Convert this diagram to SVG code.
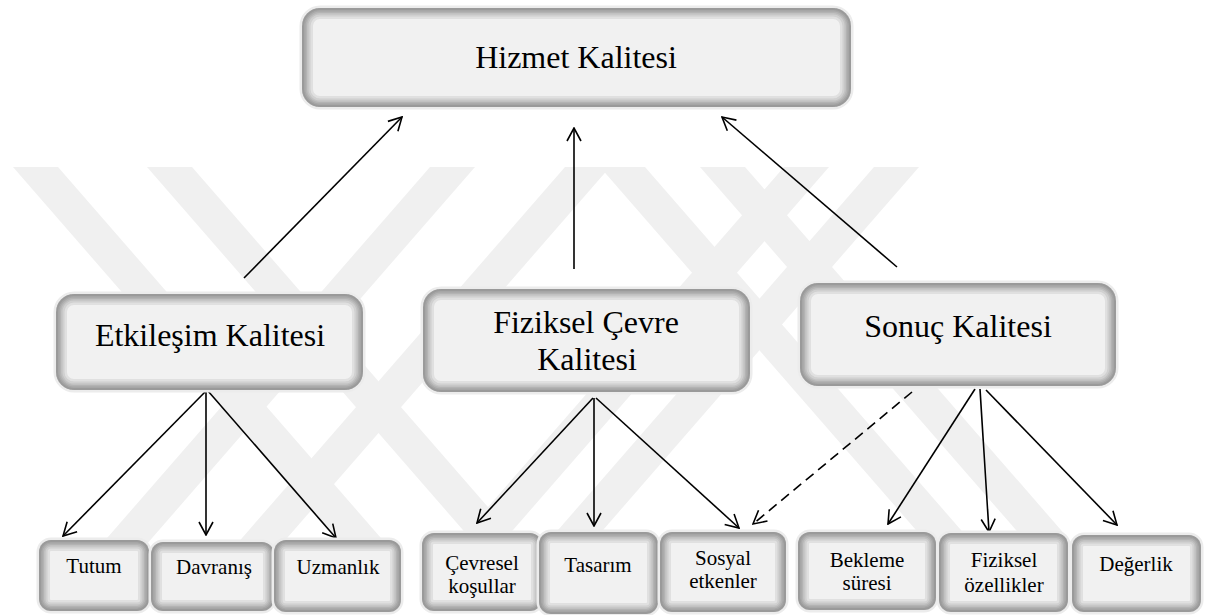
<svg xmlns="http://www.w3.org/2000/svg" width="1213" height="615" viewBox="0 0 1213 615">
  <defs>
    <style>
      .halo { fill: none; stroke: #ececec; stroke-width: 5; }
      .face { fill: #f1f1f1; stroke: none; }
      .sh { fill: none; stroke: #000; stroke-opacity: 0.07; }
      .w1 { stroke-width: 4; } .w2 { stroke-width: 7; } .w3 { stroke-width: 10; }
      .w4 { stroke-width: 13; } .w5 { stroke-width: 17; } .w6 { stroke-width: 22; }
      .t { fill: #000; text-anchor: middle; font-family: "Liberation Serif", "Times New Roman", serif; }
      .big { font-size: 32px; }
      .small { font-size: 21px; }
      .wire { fill: none; stroke: #000; stroke-width: 1.6; marker-end: url(#head); }
      .dash { stroke-dasharray: 10 6; }
      .wm { fill: #f0f0f0; }
    </style>
    <marker id="head" viewBox="0 0 16 16" refX="15" refY="8" markerWidth="16" markerHeight="16" markerUnits="userSpaceOnUse" orient="auto">
      <path d="M2,1 L15,8 L2,15" fill="none" stroke="#000" stroke-width="1.6"/>
    </marker>

    <!-- box outlines -->
    <rect id="r-hizmet" x="302" y="8" width="549" height="99" rx="18"/>
    <rect id="r-etk" x="56" y="294" width="307" height="96" rx="18"/>
    <rect id="r-fiz" x="423" y="289" width="327" height="103" rx="18"/>
    <rect id="r-son" x="800" y="283" width="316" height="103" rx="18"/>
    <rect id="r-tut" x="39" y="540" width="110" height="71" rx="12"/>
    <rect id="r-dav" x="151" y="542" width="123" height="69" rx="12"/>
    <rect id="r-uzm" x="274" y="540" width="127" height="72" rx="12"/>
    <rect id="r-cev" x="422" y="533" width="120" height="78" rx="12"/>
    <rect id="r-tas" x="539" y="532" width="119" height="82" rx="12"/>
    <rect id="r-sos" x="660" y="532" width="126" height="80" rx="12"/>
    <rect id="r-bek" x="798" y="532" width="138" height="78" rx="12"/>
    <rect id="r-foz" x="939" y="533" width="129" height="79" rx="12"/>
    <rect id="r-deg" x="1072" y="535" width="129" height="77" rx="12"/>

    <clipPath id="c-hizmet"><use href="#r-hizmet"/></clipPath>
    <clipPath id="c-etk"><use href="#r-etk"/></clipPath>
    <clipPath id="c-fiz"><use href="#r-fiz"/></clipPath>
    <clipPath id="c-son"><use href="#r-son"/></clipPath>
    <clipPath id="c-tut"><use href="#r-tut"/></clipPath>
    <clipPath id="c-dav"><use href="#r-dav"/></clipPath>
    <clipPath id="c-uzm"><use href="#r-uzm"/></clipPath>
    <clipPath id="c-cev"><use href="#r-cev"/></clipPath>
    <clipPath id="c-tas"><use href="#r-tas"/></clipPath>
    <clipPath id="c-sos"><use href="#r-sos"/></clipPath>
    <clipPath id="c-bek"><use href="#r-bek"/></clipPath>
    <clipPath id="c-foz"><use href="#r-foz"/></clipPath>
    <clipPath id="c-deg"><use href="#r-deg"/></clipPath>
  </defs>

  <rect width="1213" height="615" fill="#fff"/>

  <!-- background emblem: pale diagonal bands -->
  <g id="emblem">
    <polygon class="wm" points="13,167 58,167 387,545 342,545"/>
    <polygon class="wm" points="147,167 192,167 521,545 476,545"/>
    <polygon class="wm" points="430,167 475,167 146,545 101,545"/>
    <polygon class="wm" points="565,167 610,167 281,545 236,545"/>
    <polygon class="wm" points="600,167 645,167 974,545 929,545"/>
    <polygon class="wm" points="700,167 745,167 1074,545 1029,545"/>
    <polygon class="wm" points="784,167 829,167 500,545 455,545"/>
    <polygon class="wm" points="874,167 919,167 590,545 545,545"/>
  </g>

  <g id="connectors">
    <line class="wire" x1="244" y1="278" x2="402" y2="117"/>
    <line class="wire" x1="574" y1="269" x2="574" y2="128"/>
    <line class="wire" x1="897" y1="267" x2="722" y2="117"/>
    <line class="wire" x1="206" y1="391" x2="63" y2="536"/>
    <line class="wire" x1="206" y1="391" x2="206" y2="535"/>
    <line class="wire" x1="208" y1="391" x2="336" y2="538"/>
    <line class="wire" x1="593" y1="398" x2="477" y2="523"/>
    <line class="wire" x1="594" y1="398" x2="594" y2="526"/>
    <line class="wire" x1="596" y1="398" x2="739" y2="528"/>
    <line class="wire" x1="975" y1="389" x2="888" y2="524"/>
    <line class="wire" x1="980" y1="389" x2="989" y2="532"/>
    <line class="wire" x1="986" y1="390" x2="1117" y2="525"/>
    <line class="wire dash" x1="912" y1="392" x2="753" y2="524"/>
  </g>

  <g id="hizmet">
    <use href="#r-hizmet" class="halo"/>
    <use href="#r-hizmet" class="face"/>
    <g clip-path="url(#c-hizmet)">
      <use href="#r-hizmet" class="sh w1"/><use href="#r-hizmet" class="sh w2"/><use href="#r-hizmet" class="sh w3"/>
      <use href="#r-hizmet" class="sh w4"/><use href="#r-hizmet" class="sh w5"/><use href="#r-hizmet" class="sh w6"/>
    </g>
    <text class="t big" x="576" y="68">Hizmet Kalitesi</text>
  </g>

  <g id="etkilesim">
    <use href="#r-etk" class="halo"/>
    <use href="#r-etk" class="face"/>
    <g clip-path="url(#c-etk)">
      <use href="#r-etk" class="sh w1"/><use href="#r-etk" class="sh w2"/><use href="#r-etk" class="sh w3"/>
      <use href="#r-etk" class="sh w4"/><use href="#r-etk" class="sh w5"/><use href="#r-etk" class="sh w6"/>
    </g>
    <text class="t big" x="210" y="346">Etkileşim Kalitesi</text>
  </g>

  <g id="fiziksel-cevre">
    <use href="#r-fiz" class="halo"/>
    <use href="#r-fiz" class="face"/>
    <g clip-path="url(#c-fiz)">
      <use href="#r-fiz" class="sh w1"/><use href="#r-fiz" class="sh w2"/><use href="#r-fiz" class="sh w3"/>
      <use href="#r-fiz" class="sh w4"/><use href="#r-fiz" class="sh w5"/><use href="#r-fiz" class="sh w6"/>
    </g>
    <text class="t big" x="586" y="333">Fiziksel Çevre</text>
    <text class="t big" x="587" y="370">Kalitesi</text>
  </g>

  <g id="sonuc">
    <use href="#r-son" class="halo"/>
    <use href="#r-son" class="face"/>
    <g clip-path="url(#c-son)">
      <use href="#r-son" class="sh w1"/><use href="#r-son" class="sh w2"/><use href="#r-son" class="sh w3"/>
      <use href="#r-son" class="sh w4"/><use href="#r-son" class="sh w5"/><use href="#r-son" class="sh w6"/>
    </g>
    <text class="t big" x="958" y="337">Sonuç Kalitesi</text>
  </g>

  <g id="tutum">
    <use href="#r-tut" class="halo"/>
    <use href="#r-tut" class="face"/>
    <g clip-path="url(#c-tut)">
      <use href="#r-tut" class="sh w1"/><use href="#r-tut" class="sh w2"/><use href="#r-tut" class="sh w3"/>
      <use href="#r-tut" class="sh w4"/><use href="#r-tut" class="sh w5"/><use href="#r-tut" class="sh w6"/>
    </g>
    <text class="t small" x="94" y="573">Tutum</text>
  </g>

  <g id="davranis">
    <use href="#r-dav" class="halo"/>
    <use href="#r-dav" class="face"/>
    <g clip-path="url(#c-dav)">
      <use href="#r-dav" class="sh w1"/><use href="#r-dav" class="sh w2"/><use href="#r-dav" class="sh w3"/>
      <use href="#r-dav" class="sh w4"/><use href="#r-dav" class="sh w5"/><use href="#r-dav" class="sh w6"/>
    </g>
    <text class="t small" x="214" y="574">Davranış</text>
  </g>

  <g id="uzmanlik">
    <use href="#r-uzm" class="halo"/>
    <use href="#r-uzm" class="face"/>
    <g clip-path="url(#c-uzm)">
      <use href="#r-uzm" class="sh w1"/><use href="#r-uzm" class="sh w2"/><use href="#r-uzm" class="sh w3"/>
      <use href="#r-uzm" class="sh w4"/><use href="#r-uzm" class="sh w5"/><use href="#r-uzm" class="sh w6"/>
    </g>
    <text class="t small" x="338" y="574">Uzmanlık</text>
  </g>

  <g id="cevresel">
    <use href="#r-cev" class="halo"/>
    <use href="#r-cev" class="face"/>
    <g clip-path="url(#c-cev)">
      <use href="#r-cev" class="sh w1"/><use href="#r-cev" class="sh w2"/><use href="#r-cev" class="sh w3"/>
      <use href="#r-cev" class="sh w4"/><use href="#r-cev" class="sh w5"/><use href="#r-cev" class="sh w6"/>
    </g>
    <text class="t small" x="482" y="570">Çevresel</text>
    <text class="t small" x="482" y="593">koşullar</text>
  </g>

  <g id="tasarim">
    <use href="#r-tas" class="halo"/>
    <use href="#r-tas" class="face"/>
    <g clip-path="url(#c-tas)">
      <use href="#r-tas" class="sh w1"/><use href="#r-tas" class="sh w2"/><use href="#r-tas" class="sh w3"/>
      <use href="#r-tas" class="sh w4"/><use href="#r-tas" class="sh w5"/><use href="#r-tas" class="sh w6"/>
    </g>
    <text class="t small" x="598" y="572">Tasarım</text>
  </g>

  <g id="sosyal">
    <use href="#r-sos" class="halo"/>
    <use href="#r-sos" class="face"/>
    <g clip-path="url(#c-sos)">
      <use href="#r-sos" class="sh w1"/><use href="#r-sos" class="sh w2"/><use href="#r-sos" class="sh w3"/>
      <use href="#r-sos" class="sh w4"/><use href="#r-sos" class="sh w5"/><use href="#r-sos" class="sh w6"/>
    </g>
    <text class="t small" x="723" y="565">Sosyal</text>
    <text class="t small" x="723" y="588">etkenler</text>
  </g>

  <g id="bekleme">
    <use href="#r-bek" class="halo"/>
    <use href="#r-bek" class="face"/>
    <g clip-path="url(#c-bek)">
      <use href="#r-bek" class="sh w1"/><use href="#r-bek" class="sh w2"/><use href="#r-bek" class="sh w3"/>
      <use href="#r-bek" class="sh w4"/><use href="#r-bek" class="sh w5"/><use href="#r-bek" class="sh w6"/>
    </g>
    <text class="t small" x="867" y="567">Bekleme</text>
    <text class="t small" x="867" y="590">süresi</text>
  </g>

  <g id="fiziksel-ozellikler">
    <use href="#r-foz" class="halo"/>
    <use href="#r-foz" class="face"/>
    <g clip-path="url(#c-foz)">
      <use href="#r-foz" class="sh w1"/><use href="#r-foz" class="sh w2"/><use href="#r-foz" class="sh w3"/>
      <use href="#r-foz" class="sh w4"/><use href="#r-foz" class="sh w5"/><use href="#r-foz" class="sh w6"/>
    </g>
    <text class="t small" x="1004" y="567">Fiziksel</text>
    <text class="t small" x="1004" y="592">özellikler</text>
  </g>

  <g id="degerlik">
    <use href="#r-deg" class="halo"/>
    <use href="#r-deg" class="face"/>
    <g clip-path="url(#c-deg)">
      <use href="#r-deg" class="sh w1"/><use href="#r-deg" class="sh w2"/><use href="#r-deg" class="sh w3"/>
      <use href="#r-deg" class="sh w4"/><use href="#r-deg" class="sh w5"/><use href="#r-deg" class="sh w6"/>
    </g>
    <text class="t small" x="1136" y="571">Değerlik</text>
  </g>
</svg>
